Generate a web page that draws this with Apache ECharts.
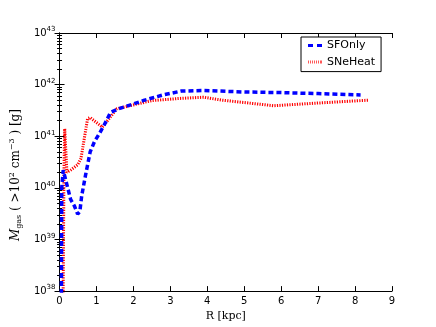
<!DOCTYPE html>
<html><head><meta charset="utf-8">
<script src="https://cdn.jsdelivr.net/npm/echarts@6/dist/echarts.min.js"></script>
<style>html,body{margin:0;padding:0;background:#fff}#c{width:436px;height:327px}</style>
</head><body><div id="c"></div>
<script>
const sfOnlyR = [0.04,0.06,0.10,0.17,0.30,0.40,0.49,0.55,0.60,0.70,0.83,0.95,1.07,1.20,1.38,1.60,1.90,2.30,2.80,3.30,3.90,5.00,6.00,7.00,8.15];
const sfOnlyM = [1e35,1e40,2.2e40,1.4e40,6e39,4.5e39,3.1e39,3.5e39,7e39,1.7e40,5e40,8e40,1.1e41,1.6e41,2.9e41,3.4e41,4e41,5e41,6.3e41,7.5e41,7.7e41,7.2e41,7e41,6.7e41,6.3e41];
const sneHeatR = [0.07,0.12,0.14,0.16,0.20,0.30,0.49,0.58,0.76,0.83,1.16,1.55,1.90,2.50,3.25,3.90,4.40,5.80,7.00,8.37];
const sneHeatM = [1e35,2e40,1.4e41,1.4e41,2e40,2.2e40,2.8e40,3.7e40,2.2e41,2.3e41,1.5e41,3.4e41,3.9e41,4.9e41,5.4e41,5.7e41,5e41,3.9e41,4.4e41,5e41];
const xTicks = [0,1,2,3,4,5,6,7,8,9];
const seriesNames = ['SFOnly','SNeHeat'];

const pair = (xs, ys) => xs.map((x,i)=>[x, ys[i]]);
const chart = echarts.init(document.getElementById('c'), null, {renderer:'canvas'});
const axisLine = {show:true, lineStyle:{color:'#000', width:1}};
const tickIn = {show:true, inside:true, length:5, lineStyle:{color:'#000'}};
const dashIcon = 'path://M0,0h5v3h-5zM9,0h5v3h-5z';
const dotIcon = 'path://M0,0h1v3h-1zM2,0h1v3h-1zM4,0h1v3h-1zM6,0h1v3h-1zM8,0h1v3h-1zM10,0h1v3h-1zM12,0h1v3h-1zM13,0h1v3h-1z';
chart.setOption({
  animation:false,
  backgroundColor:'#fff',
  grid:{left:55, right:44, top:33, bottom:33, containLabel:false},
  legend:{
    data:[{name:seriesNames[0], icon:dashIcon},{name:seriesNames[1], icon:dotIcon, itemStyle:{opacity:0.65}}],
    orient:'vertical', left:301, top:37,
    padding:[2,6,3,7], itemGap:3.6, itemWidth:14, itemHeight:3, itemTextGap:13,
    borderColor:'#000', borderWidth:1, backgroundColor:'#fff',
    textStyle:{fontFamily:'DejaVu Sans', fontSize:11, lineHeight:13, color:'#000'}
  },
  xAxis:[
    {type:'value', min:0, max:9, interval:1, position:'bottom',
     axisLine, axisTick:tickIn, splitLine:{show:false},
     axisLabel:{fontFamily:'DejaVu Sans', fontSize:10, color:'#000', margin:5, formatter:v=>xTicks.includes(v)?String(v):''},
     name:'R [kpc]', nameLocation:'middle', nameGap:15,
     nameTextStyle:{fontFamily:'DejaVu Serif', fontSize:11, color:'#000'}},
    {type:'value', min:0, max:9, interval:1, position:'top',
     axisLine, axisTick:tickIn, splitLine:{show:false}, axisLabel:{show:false}}
  ],
  yAxis:[
    {type:'log', logBase:10, min:1e38, max:1e43, position:'left',
     axisLine, axisTick:tickIn, minorTick:{show:true, splitNumber:9, length:2.5, lineStyle:{color:'#000'}},
     splitLine:{show:false},
     axisLabel:{margin:4, formatter:v=>'{b|10}{s|'+Math.round(Math.log10(v))+'}',
       rich:{b:{fontFamily:'DejaVu Sans', fontSize:10, color:'#000'},
             s:{fontFamily:'DejaVu Sans', fontSize:7, color:'#000', verticalAlign:'top', padding:[0,0,7,0]}}},
     name:'{m|M}{g|gas}{t| ( >10}{e|2}{t| cm}{e|−3}{t| ) [g]}', nameLocation:'middle', nameGap:24,
     nameTextStyle:{padding:[0,26,0,0], rich:{
       m:{fontFamily:'DejaVu Serif', fontStyle:'italic', fontSize:12, color:'#000'},
       g:{fontFamily:'DejaVu Serif', fontSize:8, color:'#000', padding:[6,0,0,0]},
       t:{fontFamily:'DejaVu Serif', fontSize:12, color:'#000'},
       e:{fontFamily:'DejaVu Serif', fontSize:8, color:'#000', padding:[0,0,8,0]}}}},
    {type:'log', logBase:10, min:1e38, max:1e43, position:'right',
     axisLine, axisTick:tickIn, minorTick:{show:true, splitNumber:9, length:2.5, lineStyle:{color:'#000'}},
     splitLine:{show:false}, axisLabel:{show:false}}
  ],
  series:[
    {name:seriesNames[0], type:'line', data:pair(sfOnlyR, sfOnlyM), symbol:'none', clip:true,
     lineStyle:{color:'#0000ff', width:3.5, type:[5,3]}, itemStyle:{color:'#0000ff'}, z:3},
    {name:seriesNames[1], type:'line', data:pair(sneHeatR, sneHeatM), symbol:'none', clip:true,
     lineStyle:{color:'#ff0000', width:3, type:[1.2,1.3]}, itemStyle:{color:'#ff0000'}, z:2}
  ]
});
</script></body></html>
